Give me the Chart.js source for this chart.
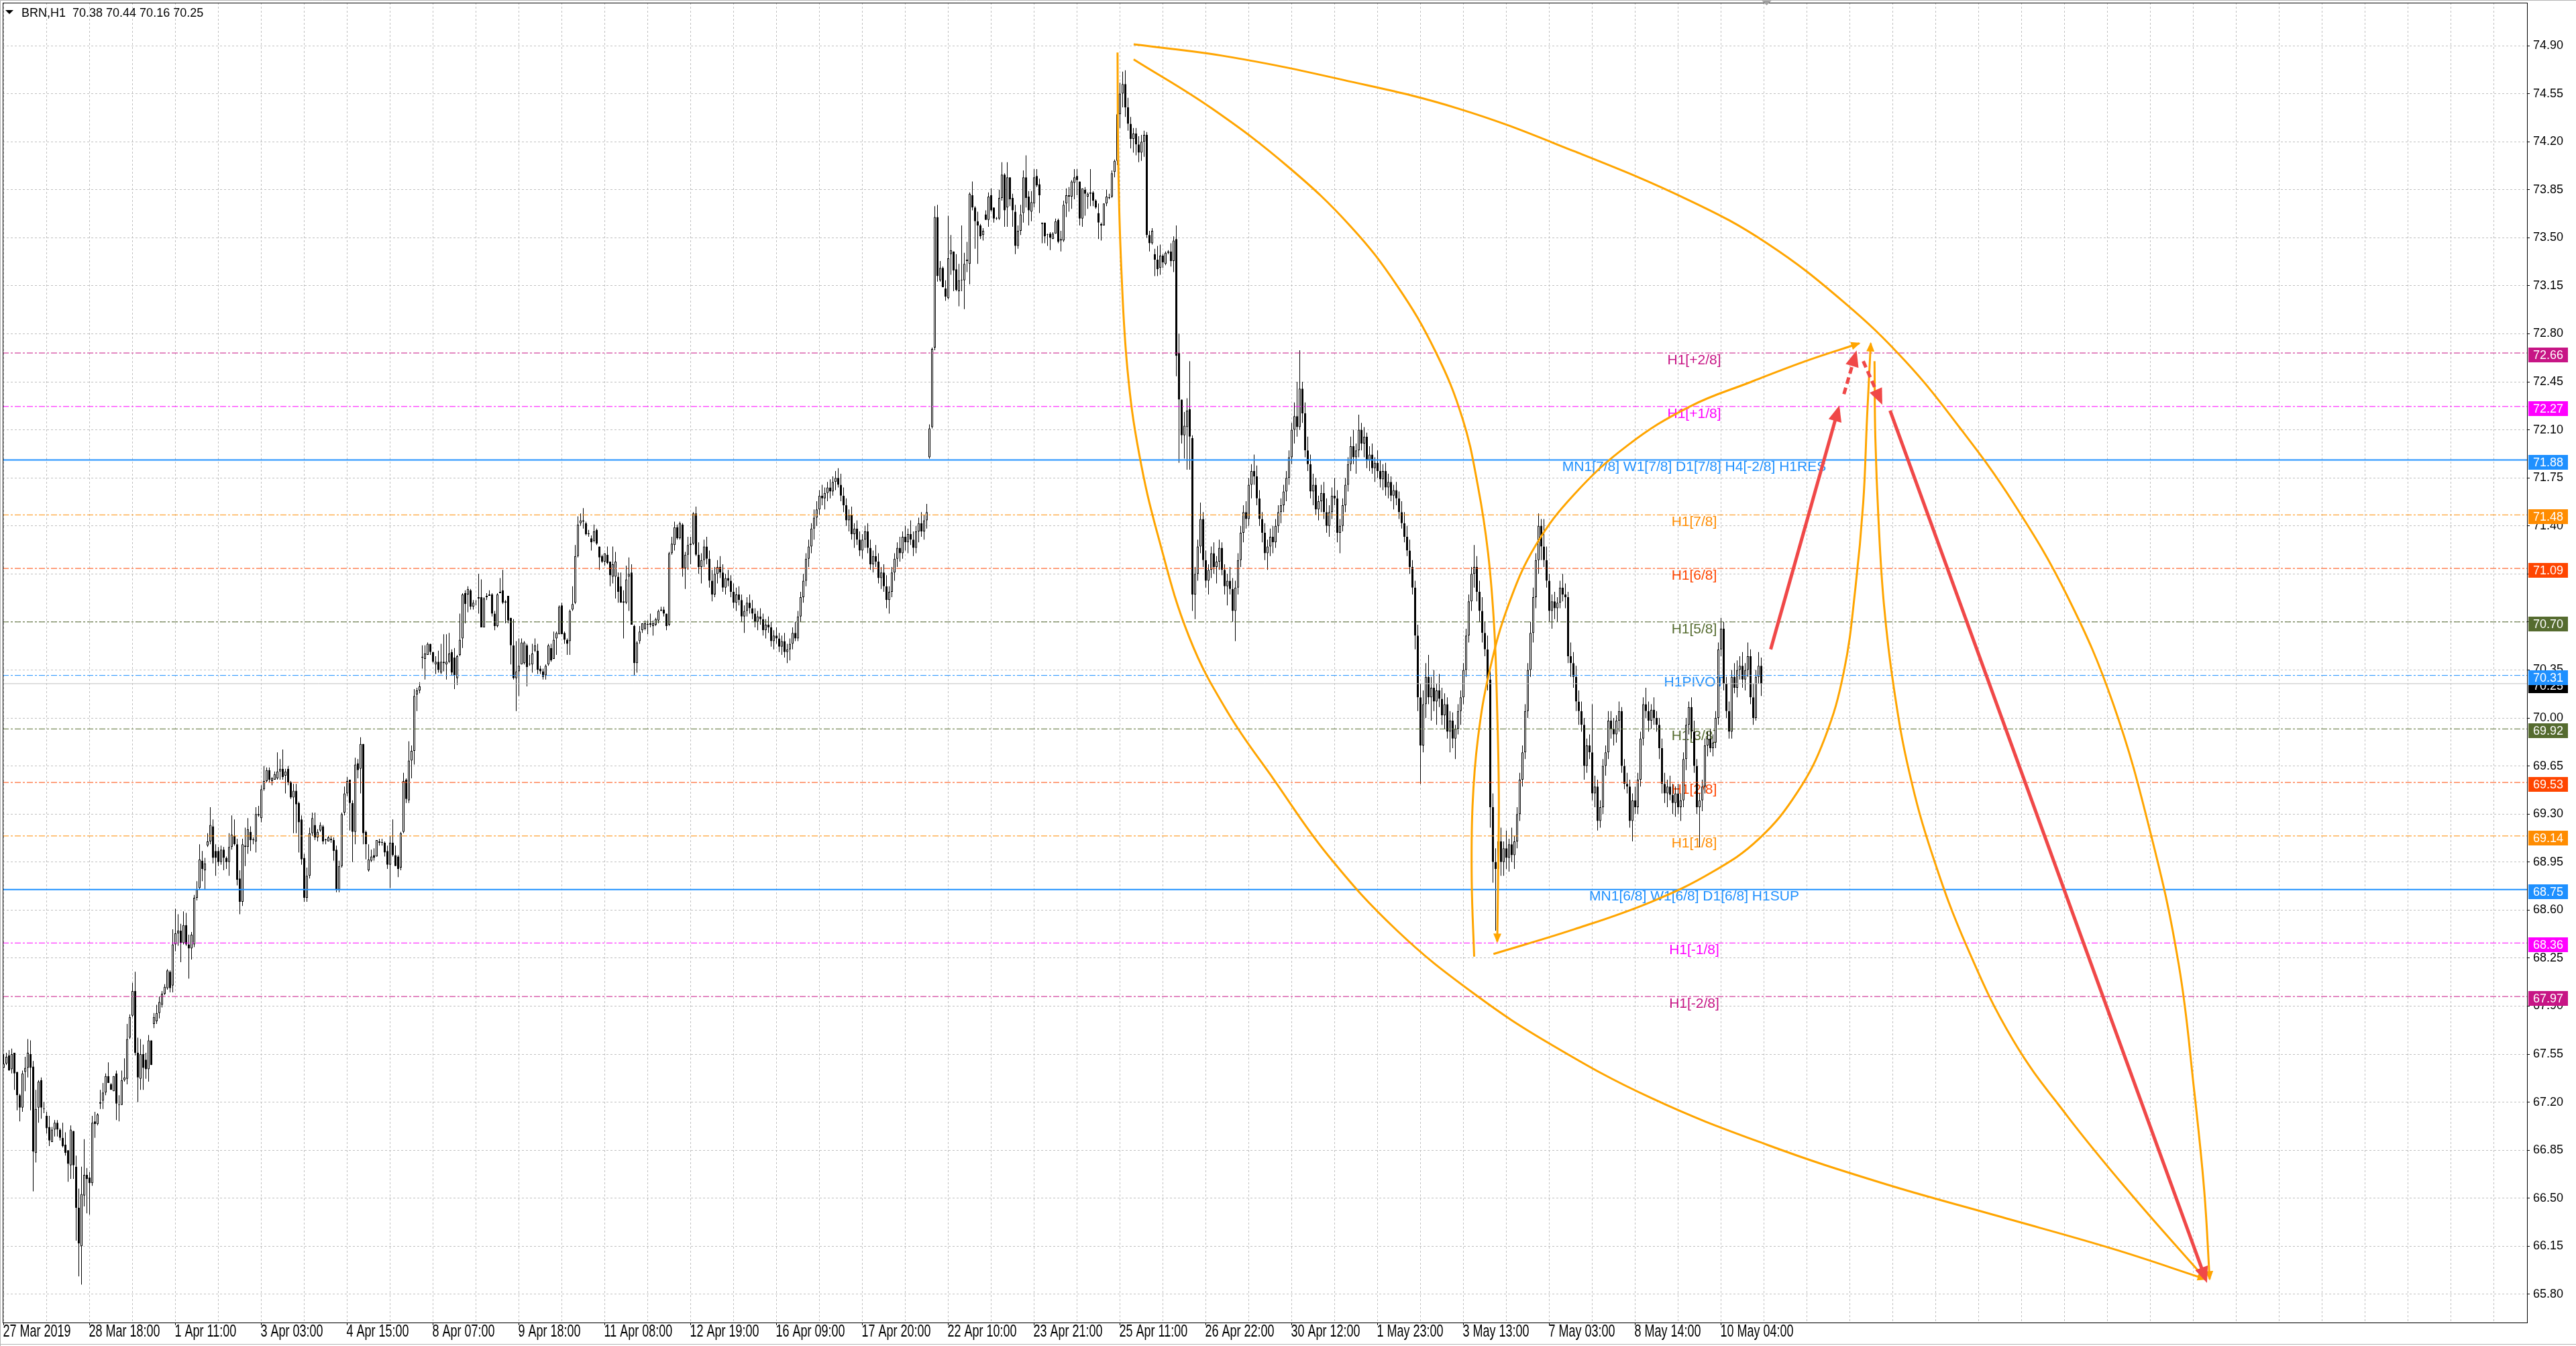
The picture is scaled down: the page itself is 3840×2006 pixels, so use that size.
<!DOCTYPE html>
<html>
<head>
<meta charset="utf-8">
<title>BRN,H1</title>
<script src="https://cdn.jsdelivr.net/npm/chart.js@4.4.1/dist/chart.umd.min.js"></script>
<style>
  html, body { margin: 0; padding: 0; background: #fff; }
  #wrap { width: 3840px; height: 2006px; }
</style>
</head>
<body>
<div id="wrap"><canvas id="chart" width="3840" height="2006"></canvas></div>
<script>
// Hourly Brent bars, one row per bar: [open, high, low, close]
const ohlc = [
  [67.45,67.55,67.45,67.48],[67.48,67.56,67.47,67.53],[67.54,67.58,67.43,67.43],[67.44,67.59,67.41,67.55],
  [67.56,67.56,67.29,67.41],[67.42,67.42,67.14,67.25],[67.25,67.26,67.06,67.16],[67.16,67.43,67.13,67.41],
  [67.42,67.53,67.28,67.45],[67.45,67.66,67.38,67.56],[67.55,67.65,67.14,67.45],[67.46,67.50,66.55,66.84],
  [66.83,67.29,66.76,67.15],[67.16,67.36,67.05,67.35],[67.36,67.38,67.08,67.16],[67.15,67.20,67.12,67.15],
  [67.10,67.13,66.97,67.01],[67.02,67.10,66.88,66.92],[66.91,67.02,66.91,67.00],[67.00,67.07,66.95,67.05],
  [67.05,67.07,66.95,67.00],[67.00,67.01,66.92,66.94],[66.94,67.05,66.87,66.88],[66.89,66.98,66.81,66.83],
  [66.85,66.85,66.62,66.75],[66.74,67.03,66.64,67.00],[66.99,66.99,66.64,66.74],[66.73,66.81,66.19,66.43],
  [66.43,66.57,65.93,66.17],[66.15,66.73,65.87,66.53],[66.52,66.93,66.44,66.67],[66.67,66.72,66.39,66.64],
  [66.65,66.69,66.38,66.61],[66.61,67.10,66.59,67.05],[67.06,67.13,66.94,67.04],[67.04,67.12,67.03,67.11],
  [67.19,67.29,67.15,67.20],[67.21,67.34,67.15,67.27],[67.27,67.41,67.25,67.39],[67.39,67.49,67.34,67.34],
  [67.33,67.34,67.29,67.29],[67.28,67.39,67.28,67.39],[67.41,67.43,67.07,67.19],[67.18,67.25,67.06,67.18],
  [67.18,67.43,67.18,67.36],[67.36,67.52,67.35,67.38],[67.37,67.77,67.33,67.66],[67.67,67.84,67.66,67.82],
  [67.83,68.07,67.82,68.01],[68.01,68.15,67.54,67.56],[67.56,67.67,67.20,67.38],[67.37,67.66,67.29,67.55],
  [67.55,67.62,67.29,67.45],[67.51,67.56,67.37,67.44],[67.44,67.69,67.35,67.65],[67.65,67.65,67.47,67.47],
  [67.77,67.85,67.74,67.82],[67.79,67.91,67.77,67.85],[67.85,67.97,67.81,67.93],[67.91,68.01,67.89,67.99],
  [67.99,68.06,67.98,68.04],[68.03,68.17,68.02,68.16],[68.15,68.16,68.00,68.03],[68.05,68.46,68.00,68.35],
  [68.35,68.61,68.30,68.43],[68.43,68.57,68.34,68.45],[68.45,68.50,68.22,68.36],[68.36,68.59,68.35,68.49],
  [68.49,68.58,68.34,68.35],[68.35,68.42,68.10,68.32],[68.32,68.44,68.24,68.42],[68.35,68.71,68.33,68.69],
  [68.69,68.81,68.67,68.75],[68.76,69.08,68.75,68.97],[68.96,69.03,68.81,68.90],[68.89,68.98,68.75,68.94],
  [69.07,69.16,69.06,69.10],[69.10,69.35,69.08,69.22],[69.21,69.26,68.94,68.98],[69.03,69.08,68.85,68.98],
  [69.03,69.06,68.92,68.95],[68.95,69.07,68.93,69.04],[69.04,69.06,68.89,68.98],[68.98,68.99,68.90,68.95],
  [68.95,69.16,68.85,69.06],[69.06,69.29,69.04,69.15],[69.14,69.26,69.07,69.08],[69.08,69.12,68.78,68.82],
  [68.83,68.89,68.57,68.66],[68.66,69.12,68.63,69.08],[69.06,69.20,68.92,69.07],[69.06,69.27,69.01,69.19],
  [69.17,69.21,69.03,69.11],[69.11,69.13,69.08,69.11],[69.10,69.35,69.02,69.30],[69.29,69.36,69.28,69.30],
  [69.27,69.51,69.24,69.48],[69.48,69.65,69.47,69.54],[69.54,69.64,69.53,69.62],[69.62,69.64,69.53,69.55],
  [69.54,69.57,69.51,69.56],[69.55,69.61,69.55,69.59],[69.56,69.75,69.55,69.61],[69.61,69.70,69.55,69.63],
  [69.63,69.77,69.55,69.57],[69.58,69.63,69.45,69.61],[69.63,69.65,69.51,69.53],[69.53,69.54,69.41,69.42],
  [69.42,69.52,69.16,69.47],[69.47,69.52,69.16,69.37],[69.38,69.39,69.02,69.24],[69.26,69.29,68.93,68.97],
  [68.98,69.01,68.66,68.69],[68.69,68.91,68.66,68.85],[68.85,69.20,68.83,69.16],[69.16,69.31,69.14,69.27],
  [69.22,69.31,69.11,69.13],[69.13,69.19,69.10,69.17],[69.18,69.24,69.17,69.22],[69.21,69.22,69.08,69.10],
  [69.11,69.12,69.08,69.11],[69.10,69.14,69.10,69.13],[69.12,69.14,69.09,69.11],[69.11,69.13,68.96,69.03],
  [69.04,69.07,68.73,68.75],[68.75,68.96,68.73,68.92],[68.92,69.31,68.91,69.30],[69.31,69.50,69.29,69.45],
  [69.45,69.57,69.43,69.54],[69.55,69.55,69.18,69.38],[69.38,69.40,68.95,69.17],[69.17,69.71,69.08,69.66],
  [69.67,69.70,69.56,69.62],[69.63,69.86,69.45,69.81],[69.81,69.81,69.08,69.16],[69.17,69.18,68.97,69.08],
  [68.89,69.08,68.88,68.97],[68.96,69.04,68.95,68.99],[69.00,69.05,68.96,68.98],[68.99,69.11,68.99,69.11],
  [69.10,69.12,69.07,69.09],[69.09,69.12,69.07,69.09],[69.09,69.10,68.99,69.02],[69.03,69.07,68.90,68.93],
  [68.93,69.14,68.76,69.09],[69.09,69.26,68.99,69.00],[69.00,69.07,68.92,68.92],[68.99,69.00,68.84,68.90],
  [68.91,69.17,68.89,69.16],[69.17,69.60,69.16,69.54],[69.55,69.56,69.38,69.41],[69.40,69.83,69.38,69.69],
  [69.69,69.80,69.56,69.76],[69.76,70.21,69.66,70.16],[70.17,70.22,70.05,70.20],[70.20,70.26,70.18,70.23],
  [70.44,70.53,70.36,70.44],[70.43,70.53,70.28,70.47],[70.46,70.55,70.46,70.54],[70.54,70.54,70.46,70.48],
  [70.48,70.48,70.40,70.41],[70.39,70.45,70.32,70.41],[70.41,70.49,70.33,70.35],[70.33,70.54,70.32,70.41],
  [70.41,70.61,70.34,70.40],[70.39,70.61,70.28,70.41],[70.41,70.62,70.40,70.47],[70.48,70.50,70.31,70.33],
  [70.44,70.51,70.21,70.31],[70.29,70.46,70.24,70.45],[70.46,70.76,70.45,70.57],[70.58,70.91,70.51,70.90],
  [70.91,70.93,70.69,70.83],[70.90,70.96,70.77,70.94],[70.93,70.94,70.79,70.81],[70.81,70.86,70.79,70.84],
  [70.85,70.85,70.82,70.85],[70.87,71.05,70.76,70.88],[70.88,71.01,70.66,70.66],[70.66,70.88,70.66,70.87],
  [70.89,70.91,70.86,70.88],[70.89,70.93,70.89,70.90],[70.90,70.91,70.74,70.76],[70.76,70.78,70.64,70.67],
  [70.67,70.91,70.66,70.90],[70.91,71.02,70.91,70.92],[70.93,71.08,70.83,70.84],[70.84,70.86,70.69,70.85],
  [70.89,70.89,70.69,70.71],[70.73,70.73,70.39,70.53],[70.53,70.72,70.28,70.29],[70.29,70.56,70.05,70.34],
  [70.34,70.58,70.16,70.38],[70.39,70.58,70.39,70.55],[70.40,70.56,70.39,70.55],[70.53,70.54,70.23,70.37],
  [70.39,70.46,70.38,70.39],[70.39,70.54,70.33,70.47],[70.49,70.58,70.48,70.53],[70.49,70.54,70.32,70.35],
  [70.36,70.38,70.32,70.34],[70.34,70.36,70.28,70.30],[70.31,70.39,70.28,70.38],[70.39,70.54,70.38,70.53],
  [70.51,70.54,70.41,70.42],[70.43,70.63,70.43,70.57],[70.58,70.63,70.46,70.62],[70.61,70.82,70.61,70.81],
  [70.82,70.84,70.61,70.61],[70.62,70.63,70.54,70.57],[70.57,70.58,70.46,70.54],[70.56,70.79,70.46,70.78],
  [70.79,70.96,70.78,70.83],[70.84,71.26,70.83,71.18],[71.18,71.47,71.17,71.41],[71.42,71.49,71.40,71.44],
  [71.43,71.53,71.38,71.44],[71.42,71.43,71.33,71.34],[71.34,71.37,71.32,71.34],[71.31,71.33,71.22,71.28],
  [71.29,71.41,71.28,71.36],[71.37,71.38,71.26,71.27],[71.25,71.25,71.08,71.17],[71.18,71.19,71.13,71.14],
  [71.14,71.20,71.11,71.20],[71.19,71.25,71.12,71.13],[71.14,71.14,70.96,71.04],[71.03,71.25,70.98,71.12],
  [71.03,71.21,70.87,71.14],[71.03,71.06,70.84,70.92],[70.96,71.06,70.84,70.84],[70.85,70.93,70.58,70.84],
  [70.84,71.11,70.83,71.01],[71.03,71.17,70.78,71.05],[71.06,71.12,70.68,70.68],[70.67,70.68,70.31,70.40],
  [70.40,70.56,70.33,70.55],[70.56,70.67,70.54,70.63],[70.64,70.69,70.62,70.69],[70.65,70.71,70.64,70.69],
  [70.68,70.71,70.61,70.68],[70.68,70.76,70.66,70.69],[70.67,70.71,70.60,70.69],[70.68,70.73,70.67,70.72],
  [70.71,70.79,70.69,70.78],[70.78,70.81,70.78,70.79],[70.79,70.81,70.74,70.76],[70.76,70.76,70.64,70.67],
  [70.68,71.21,70.67,71.20],[71.20,71.32,71.19,71.27],[71.26,71.43,71.22,71.39],[71.39,71.41,71.30,71.31],
  [71.31,71.43,71.30,71.42],[71.41,71.42,71.03,71.09],[71.09,71.21,70.94,71.19],[71.19,71.32,71.08,71.26],
  [71.26,71.32,71.12,71.27],[71.27,71.50,71.26,71.49],[71.49,71.54,71.18,71.19],
  [71.19,71.28,71.05,71.10],[71.10,71.20,70.98,71.15],[71.15,71.30,71.10,71.25],[71.25,71.32,71.12,71.16],
  [71.16,71.22,70.95,71.00],[71.00,71.08,70.85,70.90],[70.90,71.10,70.88,71.05],[71.05,71.15,70.98,71.10],
  [71.10,71.18,71.02,71.06],[71.06,71.12,70.92,70.95],[70.95,71.05,70.90,71.02],[71.02,71.08,70.96,71.00],
  [71.00,71.04,70.88,70.92],[70.92,70.98,70.80,70.84],[70.84,70.95,70.78,70.90],[70.90,70.96,70.82,70.86],
  [70.86,70.90,70.70,70.74],[70.74,70.82,70.62,70.78],[70.78,70.88,70.74,70.84],[70.84,70.90,70.76,70.80],
  [70.80,70.86,70.72,70.76],[70.76,70.80,70.66,70.70],[70.70,70.78,70.64,70.74],[70.74,70.80,70.68,70.72],
  [70.72,70.76,70.60,70.64],[70.64,70.72,70.58,70.68],[70.68,70.74,70.62,70.66],[70.66,70.70,70.52,70.56],
  [70.56,70.64,70.50,70.60],[70.60,70.66,70.54,70.58],[70.58,70.62,70.48,70.52],[70.52,70.60,70.46,70.56],
  [70.56,70.62,70.44,70.48],[70.48,70.54,70.40,70.50],[70.50,70.58,70.42,70.54],[70.54,70.66,70.50,70.62],
  [70.62,70.70,70.56,70.58],[70.58,70.78,70.56,70.74],[70.74,70.92,70.70,70.88],[70.88,71.05,70.84,71.00],
  [71.00,71.20,70.96,71.16],[71.16,71.30,71.10,71.25],[71.25,71.42,71.20,71.38],[71.38,71.52,71.30,71.46],
  [71.46,71.58,71.40,71.52],[71.52,71.66,71.48,71.62],[71.62,71.70,71.55,71.60],[71.60,71.68,71.52,71.64],
  [71.64,71.72,71.58,71.68],[71.68,71.74,71.60,71.65],[71.65,71.76,71.62,71.72],[71.72,71.80,71.66,71.75],
  [71.75,71.82,71.68,71.70],[71.70,71.78,71.58,71.62],[71.62,71.68,71.50,71.55],[71.55,71.60,71.40,71.44],
  [71.44,71.52,71.36,71.48],[71.48,71.54,71.30,71.34],[71.34,71.42,71.24,71.38],[71.38,71.44,71.26,71.30],
  [71.30,71.36,71.18,71.22],[71.22,71.34,71.16,71.30],[71.30,71.40,71.24,71.36],[71.36,71.42,71.20,71.24],
  [71.24,71.30,71.08,71.12],[71.12,71.22,71.06,71.18],[71.18,71.26,71.10,71.14],[71.14,71.20,70.98,71.02],
  [71.02,71.10,70.94,71.06],[71.06,71.12,70.92,70.96],[70.96,71.04,70.80,70.86],[70.86,70.96,70.76,70.92],
  [70.92,71.10,70.88,71.06],[71.06,71.20,71.00,71.16],[71.16,71.28,71.10,71.24],[71.24,71.32,71.14,71.20],
  [71.20,71.36,71.16,71.32],[71.32,71.40,71.22,71.28],[71.28,71.38,71.20,71.34],[71.34,71.44,71.26,71.30],
  [71.30,71.36,71.18,71.24],[71.24,71.40,71.20,71.36],[71.36,71.46,71.28,71.42],[71.42,71.50,71.32,71.36],
  [71.36,71.48,71.30,71.44],[71.44,71.56,71.38,71.50],
  [71.90,72.14,71.89,72.11],[72.12,72.70,72.11,72.69],[72.70,73.73,72.68,73.65],[73.65,73.74,73.18,73.22],
  [73.19,73.33,73.18,73.28],[73.28,73.29,73.14,73.14],[73.13,73.19,73.04,73.07],[73.06,73.66,73.05,73.35],
  [73.38,73.52,73.23,73.41],[73.40,73.40,73.11,73.26],[73.27,73.38,73.11,73.12],[73.11,73.31,73.00,73.19],
  [73.19,73.59,73.11,73.19],[73.19,73.39,72.98,73.31],[73.33,73.47,73.25,73.34],[73.31,73.83,73.16,73.82],
  [73.81,73.91,73.70,73.72],[73.72,73.73,73.42,73.62],[73.62,73.69,73.31,73.59],[73.59,73.60,73.49,73.51],
  [73.52,73.57,73.48,73.55],[73.67,73.70,73.63,73.63],[73.63,73.83,73.58,73.80],[73.81,73.86,73.69,73.70],
  [73.72,73.72,73.61,73.64],[73.64,73.65,73.63,73.64],[73.64,73.85,73.63,73.79],[73.79,74.05,73.77,73.96],
  [73.96,73.97,73.58,73.70],[73.72,74.05,73.58,73.94],[73.94,73.94,73.73,73.78],[73.79,73.82,73.58,73.70],
  [73.69,73.74,73.38,73.44],[73.44,73.59,73.42,73.55],[73.55,73.74,73.52,73.67],[73.68,73.99,73.61,73.94],
  [73.94,74.10,73.72,73.79],[73.80,73.84,73.59,73.70],[73.69,73.84,73.62,73.76],[73.75,74.00,73.72,73.94],
  [73.95,74.00,73.87,73.88],[73.89,73.93,73.68,73.81],[73.61,73.61,73.46,73.60],[73.61,73.61,73.46,73.51],
  [73.52,73.53,73.44,73.52],[73.53,73.54,73.41,73.50],[73.49,73.54,73.49,73.53],[73.53,73.64,73.53,73.62],
  [73.63,73.64,73.46,73.47],[73.48,73.55,73.40,73.49],[73.48,73.77,73.47,73.74],[73.75,73.86,73.65,73.81],
  [73.81,73.87,73.69,73.80],[73.80,73.92,73.71,73.91],[73.90,74.00,73.78,73.94],[73.95,74.00,73.81,73.92],
  [73.91,73.91,73.59,73.64],[73.64,73.86,73.58,73.86],[73.85,73.87,73.66,73.82],[73.80,73.83,73.71,73.82],
  [73.83,74.00,73.73,73.82],[73.83,73.84,73.73,73.77],[73.77,73.78,73.71,73.72],[73.68,73.75,73.49,73.61],
  [73.60,73.61,73.48,73.59],[73.59,73.75,73.59,73.75],[73.75,73.85,73.73,73.80],[73.79,73.82,73.78,73.79],
  [73.80,73.99,73.79,73.97],[73.98,74.07,73.94,74.06],[74.06,74.45,74.03,74.40],[74.40,74.63,74.30,74.55],
  [74.55,74.71,74.45,74.62],[74.62,74.72,74.38,74.45],[74.45,74.52,74.28,74.33],[74.33,74.38,74.15,74.22],
  [74.22,74.30,74.12,74.26],[74.26,74.30,74.10,74.18],[74.18,74.24,74.05,74.12],[74.12,74.25,74.06,74.20],
  [74.20,74.28,74.09,74.25],[74.25,74.27,73.50,73.52],[73.52,73.55,73.40,73.46],[73.46,73.57,73.45,73.55],
  [73.38,73.42,73.22,73.34],[73.34,73.44,73.22,73.27],[73.28,73.45,73.23,73.37],[73.37,73.38,73.28,73.32],
  [73.31,73.40,73.30,73.39],[73.39,73.41,73.38,73.40],[73.40,73.46,73.29,73.33],[73.33,73.51,73.25,73.48],
  [73.49,73.59,72.49,72.64],[72.66,72.80,71.86,72.32],[72.32,72.32,72.00,72.06],[72.06,72.23,71.89,72.13],
  [72.12,72.33,71.81,72.24],[72.25,72.60,71.81,72.05],
  [72.04,72.06,70.78,70.90],[70.90,71.10,70.72,71.05],[71.05,71.30,71.00,71.25],[71.25,71.57,71.20,71.45],
  [71.45,71.50,71.10,71.15],[71.15,71.22,70.95,71.00],[71.00,71.12,70.90,71.08],[71.08,71.25,71.02,71.20],
  [71.20,71.28,71.05,71.10],[71.10,71.18,70.98,71.14],[71.14,71.30,71.08,71.24],[71.24,71.28,71.04,71.08],
  [71.08,71.12,70.90,70.96],[70.96,71.05,70.82,71.00],[71.00,71.10,70.90,70.94],[70.94,71.02,70.70,70.78],
  [70.78,71.00,70.56,70.95],[70.95,71.20,70.90,71.15],[71.15,71.40,71.10,71.35],[71.35,71.55,71.28,71.50],
  [71.50,71.58,71.38,71.45],[71.45,71.75,71.40,71.70],[71.70,71.85,71.60,71.80],[71.80,71.92,71.70,71.76],
  [71.76,71.84,71.55,71.60],[71.60,71.66,71.40,71.45],[71.45,71.50,71.28,71.35],[71.35,71.42,71.15,71.20],
  [71.20,71.30,71.08,71.25],[71.25,71.38,71.18,71.32],[71.32,71.40,71.20,71.28],[71.28,71.45,71.24,71.40],
  [71.40,71.55,71.35,71.50],[71.50,71.60,71.42,71.55],[71.55,71.70,71.50,71.65],[71.65,71.80,71.58,71.75],
  [71.75,71.95,71.70,71.90],[71.90,72.15,71.85,72.10],[72.10,72.30,72.00,72.20],[72.20,72.45,72.05,72.12],
  [72.12,72.68,72.10,72.40],[72.40,72.45,72.15,72.22],[72.22,72.30,71.90,71.95],[71.95,72.05,71.80,71.85],
  [71.85,71.92,71.60,71.65],[71.65,71.78,71.55,71.70],[71.70,71.75,71.48,71.52],[71.52,71.62,71.44,71.58],
  [71.58,71.70,71.50,71.64],[71.64,71.72,71.45,71.50],[71.50,71.60,71.35,71.40],[71.40,71.55,71.32,71.50],
  [71.50,71.68,71.45,71.62],[71.62,71.75,71.55,71.60],[71.60,71.66,71.28,71.35],[71.35,71.45,71.20,71.40],
  [71.40,71.60,71.36,71.55],[71.55,71.75,71.50,71.70],[71.70,71.90,71.65,71.85],[71.85,72.05,71.80,71.98],
  [71.98,72.10,71.85,71.90],[71.90,72.00,71.78,71.95],[71.95,72.21,71.90,72.10],[72.10,72.15,71.95,72.00],
  [72.00,72.12,71.90,72.05],[72.05,72.08,71.82,71.88],[71.88,71.98,71.80,71.92],[71.92,72.00,71.78,71.82],
  [71.82,71.90,71.72,71.86],[71.86,71.95,71.75,71.80],[71.80,71.88,71.68,71.74],[71.74,71.85,71.66,71.80],
  [71.80,71.86,71.62,71.68],[71.68,71.78,71.60,71.72],[71.72,71.76,71.58,71.62],[71.62,71.70,71.52,71.66],
  [71.66,71.72,71.55,71.60],[71.60,71.65,71.45,71.50],[71.50,71.58,71.38,71.42],[71.42,71.50,71.28,71.32],
  [71.32,71.40,71.18,71.22],[71.22,71.30,71.05,71.10],[71.10,71.15,70.90,70.95],[70.95,71.00,70.50,70.60],
  [70.60,70.68,70.05,70.15],[70.15,70.25,69.52,69.80],[69.80,70.20,69.75,70.10],[70.10,70.40,70.00,70.30],
  [70.30,70.46,70.10,70.15],[70.15,70.30,69.98,70.22],[70.22,70.35,70.05,70.12],[70.12,70.25,69.95,70.20],
  [70.20,70.32,70.08,70.14],[70.14,70.22,69.95,70.02],[70.02,70.18,69.92,70.10],[70.10,70.15,69.85,69.90],
  [69.90,70.05,69.75,69.98],[69.98,70.04,69.78,69.85],[69.85,69.95,69.70,69.92],[69.92,70.10,69.88,70.05],
  [70.05,70.20,69.95,70.15],[70.15,70.40,70.10,70.35],[70.35,70.65,70.30,70.60],[70.60,70.90,70.55,70.85],
  [70.85,71.10,70.78,71.05],[71.05,71.26,70.95,71.10],[71.10,71.18,70.85,70.92],[70.92,71.00,70.70,70.78],
  [70.78,70.88,70.55,70.62],[70.62,70.70,70.45,70.50],[70.50,70.60,70.20,70.28],[70.28,70.35,69.20,69.35],
  [69.35,69.45,68.80,68.95],[68.95,69.05,68.45,68.90],[68.90,69.15,68.80,69.10],[69.10,69.20,68.85,68.95],
  [68.95,69.10,68.85,69.05],[69.05,69.18,68.90,68.98],[68.98,69.12,68.88,69.08],[69.08,69.20,68.95,69.00],
  [69.00,69.14,68.90,69.10],[69.10,69.35,69.05,69.30],[69.30,69.60,69.25,69.55],[69.55,69.80,69.50,69.75],
  [69.75,70.10,69.70,70.05],[70.05,70.40,70.00,70.35],[70.35,70.70,70.30,70.62],[70.62,70.95,70.55,70.88],
  [70.88,71.20,70.80,71.15],[71.15,71.49,71.05,71.40],[71.40,71.45,71.15,71.25],
  [71.25,71.45,71.10,71.15],[71.15,71.25,70.95,71.00],[71.00,71.05,70.70,70.78],[70.78,70.90,70.65,70.85],
  [70.85,70.92,70.72,70.80],[70.80,70.88,70.70,70.84],[70.84,71.00,70.80,70.95],[70.95,71.05,70.85,70.90],
  [70.90,70.98,70.80,70.88],[70.88,70.92,70.40,70.45],[70.45,70.55,70.30,70.40],[70.40,70.48,70.22,70.30],
  [70.30,70.38,70.05,70.12],[70.12,70.20,69.95,70.05],[70.05,70.12,69.90,69.95],[69.95,70.00,69.55,69.65],
  [69.65,69.85,69.60,69.80],[69.80,69.88,69.70,69.75],[69.75,70.10,69.40,69.45],[69.45,69.58,69.35,69.50],
  [69.50,69.55,69.18,69.25],[69.25,69.40,69.20,69.35],[69.35,69.70,69.30,69.65],[69.65,69.80,69.58,69.75],
  [69.75,70.05,69.70,69.98],[69.98,70.05,69.85,69.92],[69.92,70.00,69.80,69.88],[69.88,70.02,69.82,69.98],
  [69.98,70.12,69.90,70.05],[70.05,70.08,69.60,69.65],[69.65,69.70,69.48,69.52],[69.52,69.60,69.45,69.50],
  [69.50,69.55,69.20,69.25],[69.25,69.45,69.10,69.40],[69.40,69.50,69.30,69.35],[69.35,69.60,69.30,69.55],
  [69.55,69.90,69.50,69.85],[69.85,70.15,69.80,70.10],[70.10,70.22,70.00,70.05],[70.05,70.12,69.90,69.98],
  [69.98,70.10,69.92,70.06],[70.06,70.15,69.95,70.00],[70.00,70.05,69.90,69.95],[69.95,70.00,69.70,69.78],
  [69.78,69.85,69.45,69.52],[69.52,69.60,69.38,69.45],[69.45,69.55,69.35,69.50],[69.50,69.58,69.40,69.44],
  [69.44,69.52,69.30,69.38],[69.38,69.50,69.28,69.45],[69.45,69.52,69.30,69.35],[69.35,69.45,69.25,69.40],
  [69.40,69.75,69.35,69.70],[69.70,70.00,69.62,69.95],[69.95,70.12,69.88,70.08],[70.08,70.15,69.85,69.90],
  [69.90,69.98,69.60,69.65],[69.65,69.70,69.30,69.35],[69.35,69.45,69.06,69.40],[69.40,69.55,69.32,69.50],
  [69.50,69.85,69.45,69.80],[69.80,69.90,69.72,69.85],[69.85,69.92,69.75,69.78],[69.78,69.88,69.72,69.82],
  [69.82,70.05,69.78,70.00],[70.00,70.55,69.95,70.50],[70.50,70.73,70.45,70.65],[70.65,70.70,70.20,70.25],
  [70.25,70.30,70.00,70.05],[70.05,70.12,69.85,69.90],[69.90,70.35,69.85,70.30],[70.30,70.40,70.18,70.22],
  [70.22,70.42,70.15,70.35],[70.35,70.45,70.28,70.38],[70.38,70.48,70.22,70.28],[70.28,70.40,70.20,70.35],
  [70.35,70.55,70.30,70.45],[70.45,70.50,70.10,70.15],[70.15,70.25,69.95,70.00],[70.00,70.35,69.98,70.30],
  [70.30,70.48,70.25,70.38],[70.38,70.44,70.16,70.25]
];

// Time axis labels, one every 32 bars starting with bar 0
const timeLabels = ['27 Mar 2019','28 Mar 18:00','1 Apr 11:00','3 Apr 03:00','4 Apr 15:00','8 Apr 07:00',
  '9 Apr 18:00','11 Apr 08:00','12 Apr 19:00','16 Apr 09:00','17 Apr 20:00','22 Apr 10:00','23 Apr 21:00',
  '25 Apr 11:00','26 Apr 22:00','30 Apr 12:00','1 May 23:00','3 May 13:00','7 May 03:00','8 May 14:00','10 May 04:00'];
const priceTicks = [74.90,74.55,74.20,73.85,73.50,73.15,72.80,72.45,72.10,71.75,71.40,71.05,70.70,70.35,
  70.00,69.65,69.30,68.95,68.60,68.25,67.90,67.55,67.20,66.85,66.50,66.15,65.80];

// Murrey math levels
const levelPrices = [72.66,72.27,71.88,71.48,71.09,70.70,70.31,69.92,69.53,69.14,68.75,68.36,67.97];
const levelNames = ['H1[+2/8]','H1[+1/8]','MN1[7/8] W1[7/8] D1[7/8] H4[-2/8] H1RES','H1[7/8]','H1[6/8]',
  'H1[5/8]','H1PIVOT','H1[3/8]','H1[2/8]','H1[1/8]','MN1[6/8] W1[6/8] D1[6/8] H1SUP','H1[-1/8]','H1[-2/8]'];

// Hand drawn orange arcs, points as [bar, price]
const arcOuterLow = [[415.1,74.85],[415.4,74.01],[416.5,73.28],[418.8,72.54],[423.1,71.93],[430.3,71.32],
  [441.8,70.59],[456.2,70.04],[473.4,69.55],[493.5,69.00],[519.3,68.45],[548.0,67.99],[576.7,67.62],
  [614.0,67.23],[657.1,66.89],[700.1,66.61],[743.2,66.37],[786.2,66.13],[820.6,65.91]];
const arcOuterTop = [[421.1,74.91],[456.2,74.82],[499.2,74.65],[542.3,74.44],[585.3,74.13],[628.4,73.77],
  [657.1,73.46],[685.8,73.03],[708.7,72.60],[728.8,72.12],[748.9,71.57],[769.0,70.89],[786.2,70.10],
  [800.6,69.12],[810.6,68.20],[816.3,67.29],[820.1,66.55],[822.1,65.91]];
const arcDrop = [[421.1,74.80],[450.4,74.44],[479.1,74.01],[502.1,73.58],[519.3,73.15],[533.6,72.67],
  [543.7,72.18],[549.4,71.69],[553.2,71.20],[555.5,70.65],[556.6,70.04],[557.2,69.43],[556.9,68.81],[556.6,68.37]];
const arcRiseLeft = [[548.0,68.26],[547.1,68.81],[547.4,69.36],[549.4,69.85],[553.7,70.34],[560.9,70.83],
  [571.0,71.26],[585.3,71.63],[605.4,71.99],[628.4,72.27],[651.3,72.45],[671.4,72.60],[691.5,72.73]];
const arcRiseRight = [[555.2,68.28],[585.3,68.46],[614.0,68.66],[637.0,68.88],[654.2,69.12],[668.5,69.46],
  [678.6,69.85],[685.8,70.34],[690.1,70.95],[693.0,71.57],[694.4,72.18],[695.8,72.73]];
const arcFall = [[697.2,72.60],[697.5,72.05],[698.7,71.44],[700.7,70.83],[704.4,70.22],[710.1,69.61],
  [718.8,69.00],[731.7,68.33],[748.9,67.65],[769.0,67.10],[791.9,66.55],[820.6,65.91]];

// Red forecast arrows, [bar, price]
const upSolid = [[658.5,70.50],[683.7,72.25]];
const upDashed = [[685.8,72.36],[690.1,72.65]];
const downDashed = [[693.0,72.60],[699.5,72.31]];
const downSolid = [[703.0,72.24],[820.6,65.91]];

const X_MIN = -0.375, X_MAX = 940.375;
const LABEL_EVERY = 32, GRID_EVERY = 16, LEVEL_TEXT_BAR = 630;

const levelColors = ['#C71585','#FF00FF','#1E90FF','#FF8C00','#FF4500','#556B2F','#1E90FF',
  '#556B2F','#FF4500','#FF8C00','#1E90FF','#FF00FF','#C71585'];
const ORANGE = '#FFA500', RED = '#F04848';
const FONT = '"Liberation Sans", Arial, sans-serif';

const toXY = pts => pts.map(p => ({x: p[0], y: p[1]}));
const last = ohlc[ohlc.length - 1];

const datasets = [];
datasets.push({
  type: 'bar', label: 'wick', order: 20, grouped: false,
  data: ohlc.map((c, i) => ({x: i, y: [c[2], c[1]]})),
  backgroundColor: '#000', borderWidth: 0, maxBarThickness: 1,
  barPercentage: 1, categoryPercentage: 1, inflateAmount: 0
});
datasets.push({
  type: 'bar', label: 'body', order: 19, grouped: false,
  data: ohlc.map((c, i) => ({x: i, y: [c[0], c[3]]})),
  backgroundColor: ctx => (ctx.raw && ctx.raw.y[1] >= ctx.raw.y[0]) ? '#fff' : '#000',
  borderColor: '#000', borderWidth: 1, borderSkipped: false, minBarLength: 1,
  maxBarThickness: 3, barPercentage: 1, categoryPercentage: 1, inflateAmount: 0
});
// bid line
datasets.push({
  type: 'line', order: 12, data: [{x: X_MIN, y: last[3]}, {x: X_MAX, y: last[3]}],
  borderColor: '#C0C0C0', borderWidth: 1, pointRadius: 0
});
levelPrices.forEach((p, k) => {
  const solid = (k === 2 || k === 10);
  datasets.push({
    type: 'line', order: 11, data: [{x: X_MIN, y: p}, {x: X_MAX, y: p}],
    borderColor: levelColors[k], borderWidth: solid ? 2 : 1,
    borderDash: solid ? [] : [9, 3, 3, 3], pointRadius: 0
  });
});
[arcOuterLow, arcOuterTop, arcDrop, arcRiseLeft, arcRiseRight, arcFall].forEach(a => {
  datasets.push({
    type: 'line', order: 5, data: toXY(a), arrow: 'orange',
    borderColor: ORANGE, borderWidth: 3, tension: 0.4, pointRadius: 0, fill: false
  });
});
[[upSolid, false], [upDashed, true], [downDashed, true], [downSolid, false]].forEach(([a, dashed]) => {
  datasets.push({
    type: 'line', order: 2, data: toXY(a), arrow: 'red',
    borderColor: RED, borderWidth: 5, borderDash: dashed ? [10, 6] : [], pointRadius: 0
  });
});

function arrowHead(ctx, from, to, len, half, color, push) {
  const a = Math.atan2(to.y - from.y, to.x - from.x);
  ctx.save();
  ctx.translate(to.x, to.y);
  ctx.rotate(a);
  ctx.translate(push, 0);
  ctx.beginPath();
  ctx.moveTo(0, 0);
  ctx.lineTo(-len, -half);
  ctx.lineTo(-len, half);
  ctx.closePath();
  ctx.fillStyle = color;
  ctx.fill();
  ctx.restore();
}

const overlay = {
  id: 'overlay',
  beforeDraw(chart) {
    const {ctx, width, height} = chart;
    ctx.save();
    ctx.fillStyle = '#fff';
    ctx.fillRect(0, 0, width, height);
    ctx.restore();
  },
  beforeDatasetsDraw(chart) {
    const {ctx, scales: {x, y}} = chart;
    ctx.save();
    ctx.font = '21px ' + FONT;
    ctx.textAlign = 'center';
    ctx.textBaseline = 'middle';
    levelPrices.forEach((p, k) => {
      ctx.fillStyle = levelColors[k];
      ctx.fillText(levelNames[k], x.getPixelForValue(LEVEL_TEXT_BAR), y.getPixelForValue(p) + 11);
    });
    ctx.restore();
  },
  afterDatasetsDraw(chart) {
    const {ctx} = chart;
    chart.data.datasets.forEach((ds, i) => {
      if (!ds.arrow) return;
      const pts = chart.getDatasetMeta(i).data;
      const a = pts[pts.length - 2], b = pts[pts.length - 1];
      if (ds.arrow === 'orange') arrowHead(ctx, a, b, 14, 6, ORANGE, 2);
      else arrowHead(ctx, a, b, 24, 10, RED, 6);
    });
  },
  afterDraw(chart) {
    const {ctx, chartArea: ca, scales: {x, y}, width} = chart;
    ctx.save();
    // outer window border
    ctx.strokeStyle = '#B4B4B4';
    ctx.lineWidth = 1;
    ctx.beginPath();
    ctx.moveTo(0.5, 2006); ctx.lineTo(0.5, 0.5); ctx.lineTo(width, 0.5);
    ctx.moveTo(0, 2003.5); ctx.lineTo(width, 2003.5);
    ctx.stroke();
    // chart frame
    ctx.strokeStyle = '#000';
    ctx.strokeRect(ca.left + 0.5, ca.top + 0.5, ca.right - ca.left, ca.bottom - ca.top);

    // price boxes on the axis
    ctx.font = '18px ' + FONT;
    ctx.textBaseline = 'middle';
    ctx.textAlign = 'left';
    const box = (p, fill) => {
      const py = Math.round(y.getPixelForValue(p)) + 3;
      ctx.fillStyle = fill;
      ctx.fillRect(ca.right + 2, py - 11, 59, 22);
      ctx.fillStyle = '#fff';
      ctx.fillText(p.toFixed(2), ca.right + 9, py + 1);
    };
    box(last[3], '#000');
    levelPrices.forEach((p, k) => box(p, levelColors[k]));

    // time labels
    ctx.fillStyle = '#000';
    ctx.font = '25px ' + FONT;
    ctx.textBaseline = 'alphabetic';
    timeLabels.forEach((t, k) => {
      ctx.save();
      ctx.translate(x.getPixelForValue(k * LABEL_EVERY) - 1, ca.bottom + 21);
      ctx.scale(0.72, 1);
      ctx.fillText(t, 0, 0);
      ctx.restore();
    });

    // header
    ctx.beginPath();
    ctx.moveTo(8, 15); ctx.lineTo(20, 15); ctx.lineTo(14, 21); ctx.closePath();
    ctx.fill();
    ctx.font = '18px ' + FONT;
    ctx.fillText('BRN,H1  ' + last.map(v => v.toFixed(2)).join(' '), 32, 25);

    // chart shift marker
    const sx = x.getPixelForValue(ohlc.length + 1);
    ctx.fillStyle = '#A0A0A0';
    ctx.beginPath();
    ctx.moveTo(sx - 7, 1); ctx.lineTo(sx + 7, 1); ctx.lineTo(sx, 8); ctx.closePath();
    ctx.fill();
    ctx.restore();
  }
};

new Chart(document.getElementById('chart'), {
  type: 'bar',
  data: {datasets},
  plugins: [overlay],
  options: {
    responsive: false,
    devicePixelRatio: 1,
    animation: false,
    events: [],
    layout: {padding: {left: 4, top: 4, right: 0, bottom: 0}},
    plugins: {legend: {display: false}, tooltip: {enabled: false}},
    scales: {
      x: {
        type: 'linear', position: 'bottom', min: X_MIN, max: X_MAX, offset: false,
        afterBuildTicks: s => {
          const t = [];
          for (let v = 0; v <= X_MAX; v += GRID_EVERY) t.push({value: v});
          s.ticks = t;
        },
        afterFit: s => { s.height = 35; s.paddingLeft = 0; s.paddingRight = 0; },
        grid: {
          color: '#C0C0C0', lineWidth: 1, offset: false, drawTicks: true, tickLength: 4,
          tickColor: c => (c.tick && c.tick.value % LABEL_EVERY === 0 && c.tick.value / LABEL_EVERY < timeLabels.length) ? '#000' : 'rgba(0,0,0,0)'
        },
        border: {display: false, dash: [3, 3]},
        ticks: {display: false, autoSkip: false}
      },
      y: {
        type: 'linear', position: 'right', min: 65.594, max: 75.213,
        afterBuildTicks: s => { s.ticks = priceTicks.map(v => ({value: v})); },
        afterFit: s => { s.width = 73; s.paddingTop = 0; s.paddingBottom = 0; },
        grid: {color: '#C0C0C0', lineWidth: 1, drawTicks: true, tickLength: 4, tickColor: '#000'},
        border: {display: false, dash: [3, 3]},
        ticks: {
          autoSkip: false, padding: 5, color: '#000',
          font: {family: 'Liberation Sans', size: 18},
          callback: v => Number(v).toFixed(2)
        }
      }
    }
  }
});
</script>
</body>
</html>
